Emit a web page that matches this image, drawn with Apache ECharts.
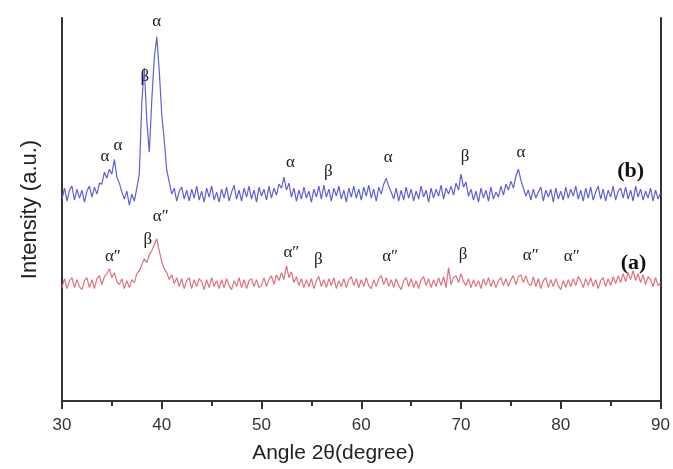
<!DOCTYPE html>
<html>
<head>
<meta charset="utf-8">
<script src="https://cdn.jsdelivr.net/npm/echarts@6/dist/echarts.min.js"></script>
<style>
  html, body { margin: 0; padding: 0; background: #fff; }
</style>
</head>
<body>
<div id="chart" style="width: 673px; height: 469px"></div>
<script>
// sampling grid of the scan (degrees)
const angleStart = 30
const angleStep = 0.25

// curve (b), one value per 0.25 degree
const curveB = [
  203, 214, 201, 212, 216, 202, 213, 204, 212, 200, 211, 216, 205, 215, 208, 219,
  218, 230, 224, 233, 228, 243, 225, 219, 210, 203, 211, 197, 208, 201, 214, 228,
  300, 335, 282, 250, 302, 345, 366, 332, 288, 262, 232, 220, 208, 214, 201, 211,
  215, 203, 212, 201, 213, 204, 216, 202, 211, 200, 214, 205, 216, 202, 210, 200,
  213, 204, 215, 201, 210, 217, 203, 212, 201, 214, 205, 216, 203, 212, 200, 215,
  206, 213, 202, 216, 204, 214, 207, 218, 214, 225, 212, 219, 205, 214, 201, 212,
  203, 215, 204, 211, 200, 213, 205, 216, 203, 217, 205, 213, 201, 214, 206, 216,
  203, 212, 200, 214, 205, 216, 204, 213, 202, 215, 206, 217, 204, 213, 201, 215,
  208, 218, 224, 216, 210, 203, 214, 201, 212, 202, 215, 204, 213, 201, 211, 203,
  216, 205, 212, 200, 214, 204, 213, 206, 217, 203, 214, 208, 216, 207, 219, 212,
  228, 215, 220, 206, 213, 202, 211, 200, 214, 204, 212, 201, 215, 203, 210, 205,
  216, 207, 218, 212, 221, 214, 226, 233, 222, 214, 206, 212, 202, 213, 204, 210,
  215, 201, 212, 205, 213, 200, 214, 203, 211, 202, 215, 204, 213, 206, 216, 203,
  212, 201, 214, 204, 215, 202, 210, 216, 203, 213, 201, 212, 205, 216, 202, 211,
  214, 204, 215, 203, 212, 201, 216, 205, 213, 202, 211, 204, 214, 201, 212, 203,
  209
]

// curve (a)
const curveA = [
  114, 123, 113, 121, 124, 114, 122, 115, 112, 121, 124, 114, 122, 113, 123, 126,
  117, 125, 128, 133, 124, 129, 120, 117, 123, 113, 121, 114, 122, 119, 128, 131,
  137, 143, 139, 147, 151, 157, 163, 151, 140, 133, 129, 122, 127, 118, 124, 115,
  123, 113, 121, 124, 113, 122, 115, 123, 120, 112, 122, 114, 124, 115, 121, 113,
  122, 114, 123, 116, 112, 121, 115, 124, 114, 122, 113, 121, 123, 115, 122, 114,
  116, 124, 115, 122, 126, 117, 127, 121, 129, 122, 136, 124, 130, 119, 125, 116,
  123, 114, 122, 115, 123, 113, 121, 125, 115, 122, 114, 123, 116, 124, 113, 121,
  115, 123, 114, 122, 125, 116, 123, 114, 122, 115, 124, 116, 113, 122, 115, 123,
  126, 117, 124, 115, 122, 114, 123, 116, 112, 121, 124, 115, 123, 114, 121, 113,
  122, 125, 116, 123, 114, 122, 115, 124, 116, 125, 114, 134, 117, 124, 126, 119,
  128, 120, 116, 123, 114, 122, 115, 121, 113, 123, 116, 124, 115, 122, 114, 121,
  124, 116, 123, 115, 122, 126, 117, 125, 127, 119, 126, 118, 116, 125, 115, 123,
  113, 121, 124, 114, 122, 115, 123, 116, 112, 121, 114, 122, 115, 123, 116, 125,
  121, 114, 123, 116, 124, 115, 122, 113, 121, 124, 115, 123, 116, 125, 118, 126,
  119, 128, 120, 129, 122, 131, 121, 128, 119, 127, 117, 125, 122, 115, 124, 116,
  119
]

// peak labels: [angle, height, text]
const labelsB = [
  [34.3, 246, 'α'], [35.6, 257, 'α'], [38.3, 326, 'β'], [39.5, 381, 'α'],
  [52.9, 240, 'α'], [56.7, 231, 'β'], [62.7, 245, 'α'], [70.4, 246, 'β'],
  [76.0, 250, 'α']
]
const labelsA = [
  [35.1, 145, 'α″'], [38.6, 162, 'β'], [39.9, 185, 'α″'], [53.0, 149, 'α″'],
  [55.7, 142, 'β'], [62.9, 145, 'α″'], [70.2, 147, 'β'], [77.0, 146, 'α″'],
  [81.1, 145, 'α″']
]
const tagB = [87.0, 231, '(b)']
const tagA = [87.3, 138, '(a)']

const toPoints = arr => arr.map((v, i) => [angleStart + i * angleStep, v])

const peakMark = (list, tag) => ({
  symbol: 'circle',
  symbolSize: 0,
  silent: true,
  data: list.map(d => ({
    coord: [d[0], d[1]],
    label: {
      show: true, position: 'inside', formatter: d[2],
      fontFamily: 'Liberation Serif', fontSize: 17, color: '#222'
    }
  })).concat([{
    coord: [tag[0], tag[1]],
    label: {
      show: true, position: 'inside', formatter: tag[2],
      fontFamily: 'Liberation Serif', fontSize: 22, fontWeight: 'bold', color: '#111'
    }
  }])
})

const chart = echarts.init(document.getElementById('chart'))

chart.setOption({
  animation: false,
  grid: { left: 62, right: 9, top: 18, bottom: 66 },
  xAxis: {
    type: 'value',
    min: 30,
    max: 90,
    interval: 10,
    name: 'Angle 2θ(degree)',
    nameLocation: 'middle',
    nameGap: 42,
    // title sits a little left of the plot centre in the original
    nameTextStyle: { fontFamily: 'Liberation Sans', fontSize: 21, color: '#222', padding: [0, 56, 0, 0] },
    axisLine: { lineStyle: { color: '#333', width: 2 } },
    axisTick: { length: 8, lineStyle: { color: '#333', width: 2 } },
    minorTick: { show: true, splitNumber: 2, length: 5, lineStyle: { color: '#333', width: 2 } },
    axisLabel: { fontFamily: 'Liberation Sans', fontSize: 17, color: '#333', margin: 16 },
    splitLine: { show: false }
  },
  yAxis: [
    {
      type: 'value',
      min: 0,
      max: 385,
      name: 'Intensity (a.u.)',
      nameLocation: 'middle',
      nameGap: 21,
      nameTextStyle: { fontFamily: 'Liberation Sans', fontSize: 22, color: '#222' },
      axisLine: { show: true, lineStyle: { color: '#333', width: 2 } },
      axisTick: { show: false },
      axisLabel: { show: false },
      splitLine: { show: false }
    },
    {
      type: 'value',
      position: 'right',
      min: 0,
      max: 385,
      axisLine: { show: true, lineStyle: { color: '#333', width: 2 } },
      axisTick: { show: false },
      axisLabel: { show: false },
      splitLine: { show: false }
    }
  ],
  series: [
    {
      name: '(b)',
      type: 'line',
      data: toPoints(curveB),
      symbol: 'none',
      lineStyle: { color: '#5f5fd6', width: 1.2 },
      markPoint: peakMark(labelsB, tagB)
    },
    {
      name: '(a)',
      type: 'line',
      data: toPoints(curveA),
      symbol: 'none',
      lineStyle: { color: '#e0707e', width: 1.2 },
      markPoint: peakMark(labelsA, tagA)
    }
  ]
})
</script>
</body>
</html>
